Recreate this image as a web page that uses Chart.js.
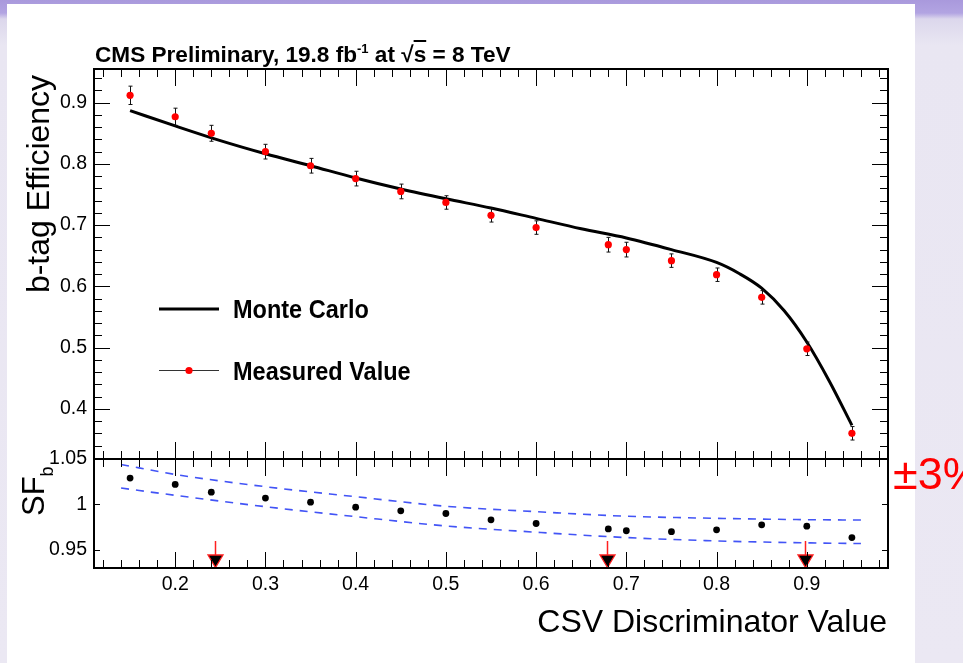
<!DOCTYPE html>
<html><head><meta charset="utf-8">
<script src="https://cdn.jsdelivr.net/npm/chart.js@4.4.0/dist/chart.umd.min.js"></script>
<style>
html,body{margin:0;padding:0;}
body{width:963px;height:663px;overflow:hidden;position:relative;
  background:linear-gradient(to bottom,#a999dc 0px,#b2a4e2 13px,#dcd7ec 19px,#e9e6f2 45px,#ebe8f3 663px);
  font-family:"Liberation Sans",Arial,Helvetica,sans-serif;}
#panel{position:absolute;left:7px;top:4px;width:908px;height:659px;background:#fff;}
canvas{position:absolute;left:0;top:0;}
.t{position:absolute;white-space:nowrap;line-height:0;color:#000;}
.rot{position:absolute;left:0;top:0;white-space:nowrap;line-height:0;transform-origin:0 0;}
</style></head>
<body>
<div id="panel"></div>
<canvas id="topChart" width="963" height="663"></canvas>
<canvas id="botChart" width="963" height="663"></canvas>
<script>
// ---------------- data ----------------
const xPoints   = [0.15,0.20,0.24,0.30,0.35,0.40,0.45,0.50,0.55,0.60,0.68,0.70,0.75,0.80,0.85,0.90,0.95];
const effMeasured = [0.912,0.877,0.850,0.820,0.797,0.776,0.755,0.737,0.716,0.696,0.668,0.660,0.642,0.619,0.582,0.498,0.360];
const effError  = [0.015,0.014,0.013,0.012,0.012,0.012,0.012,0.011,0.011,0.011,0.012,0.012,0.011,0.011,0.011,0.011,0.011];
const mcX   = [0.15,0.20,0.25,0.30,0.35,0.40,0.45,0.50,0.55,0.60,0.65,0.70,0.75,0.80,0.825,0.85,0.875,0.90,0.925,0.95];
const mcEff = [0.887,0.862,0.838,0.8165,0.797,0.777,0.759,0.743,0.728,0.711,0.694,0.679,0.660,0.639,0.621,0.597,0.560,0.509,0.445,0.373];
const sfValues  = [1.029,1.022,1.0135,1.007,1.0025,0.997,0.993,0.990,0.983,0.979,0.973,0.971,0.970,0.972,0.9775,0.976,0.9635];
const bandX     = [0.14,0.20,0.30,0.40,0.50,0.60,0.70,0.80,0.90,0.96];
const bandUpper = [1.044,1.033,1.0195,1.0085,0.998,0.992,0.987,0.9847,0.9832,0.9828];
const bandLower = [1.018,1.010,0.9975,0.9865,0.9763,0.9694,0.9635,0.9598,0.9577,0.9569];
const wpCuts    = [0.244,0.679,0.898];
const xTickLabels   = [0.2,0.3,0.4,0.5,0.6,0.7,0.8,0.9];
const effTickLabels = [0.4,0.5,0.6,0.7,0.8,0.9];
const sfTickLabels  = [0.95,1,1.05];

// ---------------- helpers ----------------
Chart.defaults.font.family = '"Liberation Sans", Arial, Helvetica, sans-serif';
Chart.defaults.color = '#000';
const FONT_ASC = 0.3465; // baseline offset for line-height:0 with Liberation Sans

function minorList(lo, hi, step, majors){
  const out=[]; const n=Math.round((hi-lo)/step);
  for(let i=0;i<=n;i++){const v=+(lo+i*step).toFixed(4); if(!majors.some(m=>Math.abs(m-v)<1e-6)) out.push(v);}
  return out;
}
const xMinor = minorList(0.12,0.98,0.02,xTickLabels.concat([0.1,1.0]));
const effMinor = minorList(0.32,0.94,0.02,effTickLabels);

function framePlugin(cfg){
  return {id:'rootFrame', afterDraw(chart){
    const ctx=chart.ctx, a=chart.chartArea, xs=chart.scales.x, ys=chart.scales.y;
    ctx.save();
    ctx.strokeStyle='#000'; ctx.lineWidth=1;
    ctx.beginPath();
    const xp=v=>Math.round(xs.getPixelForValue(v))+0.5;
    const yp=v=>Math.round(ys.getPixelForValue(v))+0.5;
    for(const v of xTickLabels){const p=xp(v);
      ctx.moveTo(p,a.top); ctx.lineTo(p,a.top+cfg.xMajTop);
      ctx.moveTo(p,a.bottom); ctx.lineTo(p,a.bottom-cfg.xMajBot);}
    for(const v of xMinor){const p=xp(v);
      ctx.moveTo(p,a.top); ctx.lineTo(p,a.top+cfg.xMin);
      ctx.moveTo(p,a.bottom); ctx.lineTo(p,a.bottom-cfg.xMin);}
    for(const v of cfg.yMajor){const p=yp(v);
      ctx.moveTo(a.left,p); ctx.lineTo(a.left+cfg.yMaj,p);
      ctx.moveTo(a.right,p); ctx.lineTo(a.right-cfg.yMaj,p);}
    for(const v of cfg.yMinor){const p=yp(v);
      ctx.moveTo(a.left,p); ctx.lineTo(a.left+cfg.yMin,p);
      ctx.moveTo(a.right,p); ctx.lineTo(a.right-cfg.yMin,p);}
    ctx.stroke();
    ctx.lineWidth=2;
    ctx.strokeRect(a.left,a.top,a.right-a.left,a.bottom-a.top);
    ctx.restore();
  }};
}

const errorBarPlugin = {id:'errBars', beforeDatasetDraw(chart,args){
  if(args.index!==1) return;
  const ctx=chart.ctx, xs=chart.scales.x, ys=chart.scales.y;
  ctx.save(); ctx.strokeStyle='#111'; ctx.lineWidth=1; ctx.beginPath();
  xPoints.forEach((x,i)=>{
    const px=Math.round(xs.getPixelForValue(x))+0.5;
    const y1=ys.getPixelForValue(effMeasured[i]+effError[i]);
    const y2=ys.getPixelForValue(effMeasured[i]-effError[i]);
    ctx.moveTo(px,y1); ctx.lineTo(px,y2);
    ctx.moveTo(px-2,y1); ctx.lineTo(px+2,y1);
    ctx.moveTo(px-2,y2); ctx.lineTo(px+2,y2);
  });
  ctx.stroke(); ctx.restore();
}};

const legendPlugin = {id:'rootLegend', afterDatasetsDraw(chart){
  const ctx=chart.ctx, a=chart.chartArea;
  const x0=a.left+65, x1=a.left+125;
  ctx.save();
  ctx.strokeStyle='#000'; ctx.lineWidth=3;
  ctx.beginPath(); ctx.moveTo(x0,309); ctx.lineTo(x1,309); ctx.stroke();
  ctx.lineWidth=1; ctx.strokeStyle='#333';
  ctx.beginPath(); ctx.moveTo(x0,370.5); ctx.lineTo(x1,370.5); ctx.stroke();
  ctx.fillStyle='#ff0000';
  ctx.beginPath(); ctx.arc((x0+x1)/2,370.5,3.6,0,Math.PI*2); ctx.fill();
  ctx.restore();
}};

const arrowPlugin = {id:'wpArrows', afterDatasetsDraw(chart){
  const ctx=chart.ctx, a=chart.chartArea, xs=chart.scales.x;
  ctx.save();
  for(const c of wpCuts){
    const px=Math.round(xs.getPixelForValue(c))+0.5;
    ctx.strokeStyle='#ff2020'; ctx.lineWidth=1.5;
    ctx.beginPath(); ctx.moveTo(px,a.bottom-27); ctx.lineTo(px,a.bottom-13); ctx.stroke();
    ctx.beginPath(); ctx.moveTo(px-7.5,a.bottom-13); ctx.lineTo(px+7.5,a.bottom-13); ctx.lineTo(px,a.bottom-0.5); ctx.closePath();
    ctx.fillStyle='#000'; ctx.fill(); ctx.strokeStyle='#ff2020'; ctx.lineWidth=1.3; ctx.stroke();
  }
  ctx.restore();
}};

const fmt = v => String(+(+v).toFixed(3));

// ---------------- upper panel ----------------
new Chart(document.getElementById('topChart'), {
  type:'line',
  data:{datasets:[
    {label:'Monte Carlo', data:mcX.map((x,i)=>({x:x,y:mcEff[i]})), borderColor:'#000', borderWidth:3,
     pointRadius:0, cubicInterpolationMode:'monotone', fill:false, order:2},
    {label:'Measured Value', data:xPoints.map((x,i)=>({x:x,y:effMeasured[i]})), showLine:false,
     pointRadius:3.6, pointBackgroundColor:'#ff0000', pointBorderWidth:0, borderColor:'#ff0000', order:1}
  ]},
  options:{
    responsive:false, animation:false, events:[],
    layout:{padding:{left:0,right:75,top:69,bottom:204}},
    plugins:{legend:{display:false}, tooltip:{enabled:false}, title:{display:false}},
    scales:{
      x:{type:'linear', min:0.11, max:0.99, display:false},
      y:{type:'linear', min:0.318, max:0.955,
         grid:{display:false, drawTicks:false}, border:{display:false},
         afterBuildTicks:s=>{s.ticks=effTickLabels.map(v=>({value:v}));},
         afterFit:s=>{s.width=94;},
         ticks:{padding:7, font:{size:19.5}, color:'#000', callback:fmt}}
    }
  },
  plugins:[errorBarPlugin, legendPlugin, framePlugin({xMajTop:17,xMajBot:17,xMin:8,yMajor:effTickLabels,yMinor:effMinor,yMaj:16,yMin:8})]
});

// ---------------- lower panel (scale factor) ----------------
new Chart(document.getElementById('botChart'), {
  type:'line',
  data:{datasets:[
    {label:'upper', data:bandX.map((x,i)=>({x:x,y:bandUpper[i]})), borderColor:'rgba(45,65,245,0.9)', borderWidth:1.6,
     borderDash:[8,7], pointRadius:0, cubicInterpolationMode:'monotone', fill:false},
    {label:'lower', data:bandX.map((x,i)=>({x:x,y:bandLower[i]})), borderColor:'rgba(45,65,245,0.9)', borderWidth:1.6,
     borderDash:[8,7], pointRadius:0, cubicInterpolationMode:'monotone', fill:false},
    {label:'SFb', data:xPoints.map((x,i)=>({x:x,y:sfValues[i]})), showLine:false,
     pointRadius:3.4, pointBackgroundColor:'#000', pointBorderWidth:0, borderColor:'#000'}
  ]},
  options:{
    responsive:false, animation:false, events:[],
    layout:{padding:{left:0,right:75,top:459,bottom:0}},
    plugins:{legend:{display:false}, tooltip:{enabled:false}},
    scales:{
      x:{type:'linear', min:0.11, max:0.99,
         grid:{display:false, drawTicks:false}, border:{display:false},
         afterBuildTicks:s=>{s.ticks=xTickLabels.map(v=>({value:v}));},
         afterFit:s=>{s.height=95;},
         ticks:{padding:5, font:{size:19.5}, color:'#000', maxRotation:0, autoSkip:false, callback:fmt}},
      y:{type:'linear', min:0.93, max:1.05,
         grid:{display:false, drawTicks:false}, border:{display:false},
         afterBuildTicks:s=>{s.ticks=sfTickLabels.map(v=>({value:v}));},
         afterFit:s=>{s.width=94;},
         ticks:{padding:7, font:{size:19.5}, color:'#000', callback:fmt}}
    }
  },
  plugins:[arrowPlugin, framePlugin({xMajTop:17,xMajBot:16,xMin:8,yMajor:[0.95,1.0],yMinor:[],yMaj:6,yMin:0})]
});

// ---------------- text (real DOM text) ----------------
function addText(html, x, baseline, size, extra){
  const d=document.createElement('div'); d.className='t';
  d.style.left=x+'px'; d.style.top=(baseline-FONT_ASC*size)+'px'; d.style.fontSize=size+'px';
  if(extra) Object.assign(d.style, extra);
  d.innerHTML=html; document.body.appendChild(d); return d;
}
function addRotated(html, baselineX, y, size, centered, extra){
  const w=document.createElement('div');
  w.style.position='absolute'; w.style.left=(baselineX-FONT_ASC*size)+'px'; w.style.top=y+'px';
  const r=document.createElement('div'); r.className='rot'; r.style.fontSize=size+'px';
  r.style.transform = centered ? 'rotate(-90deg) translate(-50%,0)' : 'rotate(-90deg)';
  if(extra) Object.assign(r.style, extra);
  r.innerHTML=html; w.appendChild(r); document.body.appendChild(w); return w;
}
addText('CMS Preliminary, 19.8 fb<span style="font-size:13px;position:relative;top:-9px">-1</span> at \u221A<span style="text-decoration:overline">s</span> = 8 TeV', 95, 63, 22.6, {fontWeight:'bold'});
addText('Monte Carlo', 233, 318, 25, {fontWeight:'bold', transform:'scaleX(0.94)', transformOrigin:'0 0'});
addText('Measured Value', 233, 380, 25, {fontWeight:'bold', transform:'scaleX(0.94)', transformOrigin:'0 0'});
addRotated('b-tag Efficiency', 49, 184, 32, true);
addRotated('SF<span style="font-size:18px;position:relative;top:9px">b</span>', 45, 516, 31, false);
const xt=addText('CSV Discriminator Value', 0, 631.7, 32); xt.style.left=''; xt.style.right='76px';
addText('\u00B13%', 893, 490, 45, {color:'#ff0000'});
</script>
</body></html>
